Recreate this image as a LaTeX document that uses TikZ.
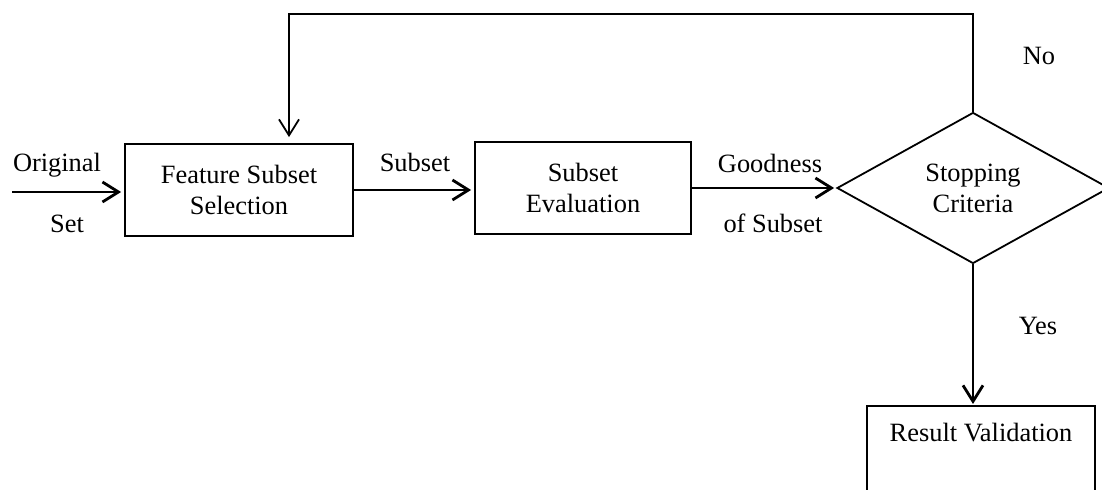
\documentclass[tikz,border=0pt]{standalone}
\usepackage{fontspec}
\setmainfont{Liberation Serif}
\usepackage{tikz}
\usetikzlibrary{arrows.meta,shapes.geometric,calc}

\begin{document}
\begin{tikzpicture}[x=0.5pt,y=-0.5pt,
  every node/.style={font=\fontsize{13.2}{15.5}\selectfont, align=center},
  blk/.style={draw,line width=0.9pt,minimum width=114pt,minimum height=46pt,inner sep=0pt},
  dec/.style={draw,diamond,line width=0.9pt,minimum width=136pt,minimum height=75.5pt,aspect=1.8,inner sep=0pt},
  arr/.style={line width=1.4pt,-{Straight Barb[length=8pt,width=10pt]}},
  lbl/.style={inner sep=0pt,anchor=base}]
\useasboundingbox (0,0) rectangle (1102,490);
\clip (0,0) rectangle (1102,490);

\node (fss) at (239,190) [blk] {Feature Subset\\Selection};
\node (se) at (583,188) [blk,minimum width=108pt] {Subset\\Evaluation};
\node (sc) at (973,188) [dec] {Stopping\\Criteria};
\node (rv) at (981,405) [blk,anchor=north,text height=9pt,text depth=60pt,inner ysep=9pt] {Result Validation};

\node (orig) at (57,172) [lbl] {Original};
\node (set) at (67,233) [lbl] {Set};
\node (sub) at (415,172) [lbl] {Subset};
\node (good) at (770,173) [lbl] {Goodness};
\node (ofs) at (773,233) [lbl] {of Subset};
\node (no) at (1039,65) [lbl] {No};
\node (yes) at (1038,335) [lbl] {Yes};

\coordinate (in) at (12,192);
\coordinate (fb) at (289,14);

\draw[arr,shorten >=1.5pt] (in) -- (fss.west |- in);
\draw[arr,shorten >=1.5pt] (fss.east) -- (se.west |- fss.east);
\draw[arr,shorten >=1pt] (se.east) -- (sc.west);
\draw[arr,line width=0.9pt,shorten >=3pt] (sc.north) |- (fb) -- (fb |- fss.north);
\draw[arr,shorten >=0.5pt] (sc.south) -- (sc.south |- rv.north);
\end{tikzpicture}
\end{document}
